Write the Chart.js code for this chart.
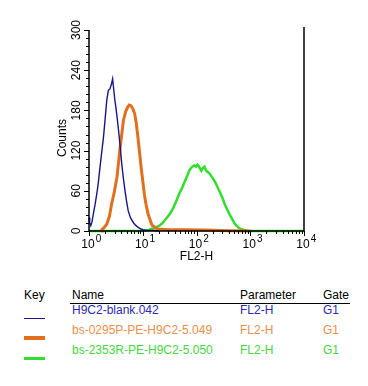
<!DOCTYPE html>
<html>
<head>
<meta charset="utf-8">
<script src="https://cdn.jsdelivr.net/npm/chart.js@4.4.1/dist/chart.umd.min.js"></script>
<style>
  body { margin: 0; background: #fff; font-family: "Liberation Sans", Arial, sans-serif; }
  #wrap { position: relative; width: 368px; height: 386px; overflow: hidden; }
  #chart { position: absolute; left: 0; top: 0; }
  .t { position: absolute; font-size: 12px; line-height: 13px; white-space: nowrap; }
  .key { position: absolute; left: 24px; width: 21px; }
</style>
</head>
<body>
<div id="wrap">
  <canvas id="chart" width="368" height="270"></canvas>
  <div id="legend"></div>
</div>
<script>
// FL2-H channel values and counts
const blankX = [1.00, 1.03, 1.08, 1.14, 1.20, 1.30, 1.40, 1.48, 1.60, 1.75, 1.86, 2.00, 2.14, 2.29, 2.45, 2.63, 2.75, 2.88, 3.02, 3.16, 3.35, 3.55, 3.80, 4.07, 4.37, 4.68, 5.01, 5.37, 5.90, 6.76, 7.50, 8.32, 9.30, 10.2, 12.0, 15.8, 20.0];
const blankY = [20, 12, 8, 14, 25, 40, 56, 70, 95, 122, 140, 168, 195, 210, 212, 220, 227, 212, 196, 185, 168, 150, 126, 100, 78, 60, 44, 30, 20, 12, 8, 5, 3, 2, 1, 1, 0];

const p0295X = [1.70, 1.74, 1.90, 2.14, 2.40, 2.63, 2.95, 3.31, 3.80, 4.37, 4.80, 5.25, 5.60, 6.03, 6.60, 7.08, 7.60, 8.13, 8.70, 9.33, 10.0, 10.7, 11.5, 12.6, 14.8, 18.6, 30, 60, 150, 400, 1000];
const p0295Y = [0, 2, 5, 10, 22, 40, 58, 80, 125, 165, 178, 185, 188, 187, 182, 175, 160, 140, 118, 95, 75, 55, 40, 25, 9, 3, 2, 2, 1.5, 0.5, 0];

const r2353X = [1.00, 10.0, 12.6, 14.1, 16.2, 20.4, 23.4, 26.9, 31.6, 36.3, 41.7, 47.9, 53.7, 60.3, 67.6, 74.1, 81.3, 91.2, 97.7, 104.7, 109.6, 123, 131.8, 141, 151, 162, 174, 195, 219, 245, 269, 302, 331, 372, 417, 468, 513, 575, 631, 741, 851, 1000, 10000];
const r2353Y = [0, 0, 1, 3, 4, 8, 12, 18, 25, 33, 44, 56, 64, 74, 83, 91, 95, 98, 96, 99, 97, 90, 94, 96, 90, 88, 86, 80, 74, 66, 59, 50, 41, 32, 24, 17, 11, 7, 4, 2, 0.5, 0, 0];

const xMajor = [1, 10, 100, 1000, 10000];
const xExp = ['0', '1', '2', '3', '4'];
const yMajor = [0, 60, 120, 180, 240, 300];

const rows = [
  {name: 'H9C2-blank.042', param: 'FL2-H', gate: 'G1', line: '#16168a', text: '#2a2ab4', width: 1.4, key: 1},
  {name: 'bs-0295P-PE-H9C2-5.049', param: 'FL2-H', gate: 'G1', line: '#e0701e', text: '#e8904a', width: 3, key: 4},
  {name: 'bs-2353R-PE-H9C2-5.050', param: 'FL2-H', gate: 'G1', line: '#33dd2e', text: '#44d640', width: 2.5, key: 3},
];

const toPoints = (xs, ys) => xs.map((x, i) => ({x: x, y: ys[i]}));
const series = [toPoints(blankX, blankY), toPoints(p0295X, p0295Y), toPoints(r2353X, r2353Y)];

const axesPlugin = {
  id: 'fcsAxes',
  afterDraw(c) {
    const ctx = c.ctx;
    const xs = c.scales.x, ys = c.scales.y;
    const left = c.chartArea.left, right = c.chartArea.right;
    const top = c.chartArea.top, bottom = c.chartArea.bottom;
    ctx.save();
    ctx.strokeStyle = '#000';
    ctx.lineWidth = 1.5;
    ctx.beginPath();
    ctx.moveTo(left, top); ctx.lineTo(left, bottom); ctx.lineTo(right, bottom);
    ctx.moveTo(right, top - 3); ctx.lineTo(right, bottom);
    ctx.stroke();

    // x ticks, log minors
    ctx.lineWidth = 1;
    ctx.beginPath();
    xMajor.forEach((d, i) => {
      const px = Math.round(xs.getPixelForValue(d)) + 0.5;
      ctx.moveTo(px, bottom); ctx.lineTo(px, bottom + 5);
      if (i < xMajor.length - 1) {
        for (let m = 2; m <= 9; m++) {
          const mx = Math.round(xs.getPixelForValue(d * m)) + 0.5;
          ctx.moveTo(mx, bottom); ctx.lineTo(mx, bottom + 3);
        }
      }
    });
    // y ticks
    for (let v = 0; v <= 300; v += 12) {
      const py = Math.round(ys.getPixelForValue(v)) + 0.5;
      const len = v % 60 === 0 ? 5 : 3;
      ctx.moveTo(left, py); ctx.lineTo(left - len, py);
    }
    ctx.stroke();

    ctx.fillStyle = '#000';
    // x labels: 10 with superscript exponent
    xMajor.forEach((d, i) => {
      const px = xs.getPixelForValue(d);
      ctx.font = '12px "Liberation Sans", Arial, sans-serif';
      const w = ctx.measureText('10').width;
      ctx.textAlign = 'left';
      ctx.textBaseline = 'alphabetic';
      ctx.fillText('10', px - w / 2 - 1, bottom + 17);
      ctx.font = '10px "Liberation Sans", Arial, sans-serif';
      ctx.fillText(xExp[i], px + w / 2, bottom + 11);
    });
    ctx.font = '12px "Liberation Sans", Arial, sans-serif';
    ctx.textAlign = 'center';
    ctx.fillText('FL2-H', (left + right) / 2, bottom + 29);

    // y labels rotated
    yMajor.forEach((v) => {
      const py = ys.getPixelForValue(v);
      ctx.save();
      ctx.translate(left - 9, py);
      ctx.rotate(-Math.PI / 2);
      ctx.textAlign = 'center';
      ctx.textBaseline = 'alphabetic';
      ctx.fillText(String(v), 0, 0);
      ctx.restore();
    });
    ctx.save();
    ctx.translate(left - 23, 138);
    ctx.rotate(-Math.PI / 2);
    ctx.textAlign = 'center';
    ctx.fillText('Counts', 0, 0);
    ctx.restore();
    ctx.restore();
  }
};

new Chart(document.getElementById('chart'), {
  type: 'line',
  data: {
    datasets: rows.map((r, i) => ({
      label: r.name,
      data: series[i],
      borderColor: r.line,
      borderWidth: r.width,
      pointRadius: 0,
      tension: 0,
      fill: false,
      clip: false,
    })),
  },
  options: {
    responsive: false,
    animation: false,
    layout: {padding: {left: 89, right: 64, top: 30, bottom: 39}},
    scales: {
      x: {type: 'logarithmic', min: 1, max: 10000, display: false},
      y: {type: 'linear', min: 0, max: 300, display: false},
    },
    plugins: {legend: {display: false}, tooltip: {enabled: false}},
  },
  plugins: [axesPlugin],
});

// key table below the plot
const legend = document.getElementById('legend');
const addText = (txt, x, y, color) => {
  const d = document.createElement('div');
  d.className = 't';
  d.style.left = x + 'px';
  d.style.top = y + 'px';
  d.style.color = color;
  d.textContent = txt;
  legend.appendChild(d);
};
addText('Key', 24, 289, '#000');
addText('Name', 72, 289, '#000');
addText('Parameter', 240, 289, '#000');
addText('Gate', 323, 289, '#000');
const rule = document.createElement('div');
rule.style.cssText = 'position:absolute;left:70px;top:303px;width:280px;height:1px;background:#000;';
legend.appendChild(rule);
rows.forEach((r, i) => {
  const y = 304 + i * 20;
  addText(r.name, 72, y, r.text);
  addText(r.param, 240, y, r.text);
  addText(r.gate, 323, y, r.text);
  const k = document.createElement('div');
  k.className = 'key';
  k.style.top = (y + 14 - Math.floor(r.key / 2)) + 'px';
  k.style.height = r.key + 'px';
  k.style.background = r.line;
  legend.appendChild(k);
});
</script>
</body>
</html>
